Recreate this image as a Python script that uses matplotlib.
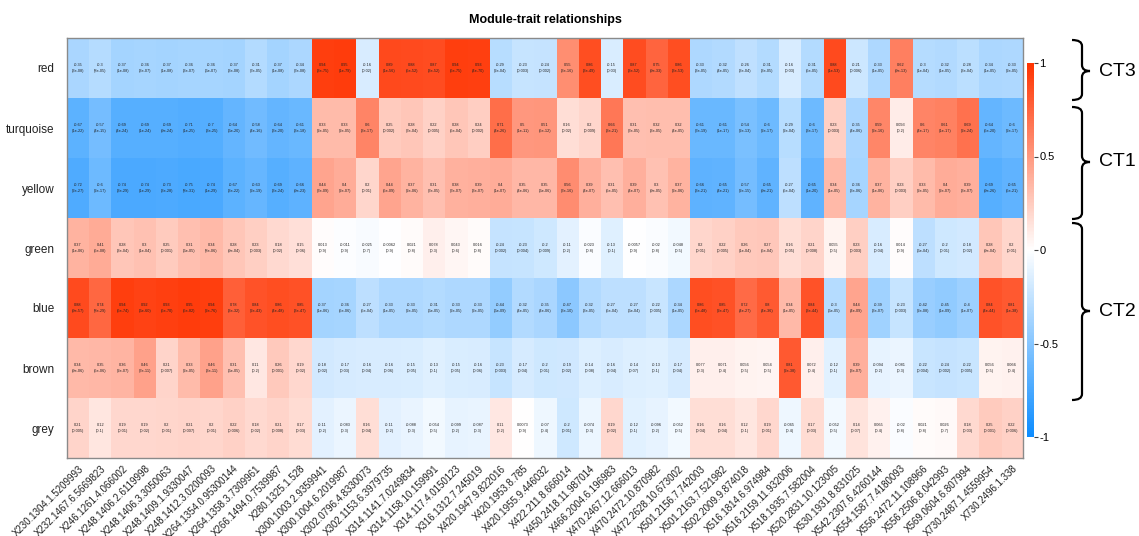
import numpy as np
import matplotlib
matplotlib.use("Agg")
import matplotlib.pyplot as plt
from matplotlib.colors import LinearSegmentedColormap
from matplotlib.path import Path
from matplotlib.patches import PathPatch

plt.rcParams['font.family'] = ['Liberation Sans', 'DejaVu Sans']

modules = ["red", "turquoise", "yellow", "green", "blue", "brown", "grey"]

traits = [
    "X230.1304.1.5209993", "X232.1467.6.5669823", "X246.1261.4.066002",
    "X248.1406.2.6119998", "X248.1406.3.3050063", "X248.1409.1.9330047",
    "X248.1412.3.0200093", "X264.1354.0.95300144", "X264.1358.3.7309961",
    "X266.1494.0.7539987", "X280.1325.1.528", "X300.1003.2.9359941",
    "X300.1004.6.2019987", "X302.0796.4.8330073", "X302.1153.6.3979735",
    "X314.1141.7.0249834", "X314.1158.10.159991", "X314.117.4.0150123",
    "X316.1312.7.245019", "X420.1947.9.822016", "X420.1953.8.785",
    "X420.1955.9.446032", "X422.211.8.666014", "X450.2418.11.987014",
    "X466.2004.6.196983", "X470.2467.12.666013", "X470.2472.10.870982",
    "X472.2628.10.673002", "X501.2156.7.742003", "X501.2163.7.521982",
    "X502.2009.9.874018", "X516.1814.6.974984", "X516.2159.11.932006",
    "X518.1935.7.582004", "X520.2831.10.123005", "X530.1931.8.831025",
    "X542.2307.6.4260144", "X554.1587.7.4180093", "X556.2472.11.108966",
    "X556.2506.8.042993", "X569.0604.6.807994", "X730.2487.1.4559954",
    "X730.2496.1.338",
]

red_cor = [-0.35, -0.3, -0.37, -0.36, -0.37, -0.36, -0.36, -0.37, -0.31, -0.37, -0.34,
           0.94, 0.95, -0.16, 0.89, 0.88, 0.87, 0.94, 0.93, -0.29, -0.23, -0.24,
           0.55, 0.86, -0.15, 0.87, 0.75, 0.86, -0.33, -0.32, -0.26, -0.31, -0.16,
           -0.31, 0.88, -0.21, -0.33, 0.62, -0.3, -0.32, -0.28, -0.34, -0.33]
red_p = ["3e-08", "8e-05", "1e-08", "3e-07", "1e-08", "3e-07", "6e-07", "3e-08", "7e-05", "1e-08", "7e-08",
         "3e-75", "1e-79", "0.02", "1e-56", "5e-52", "3e-52", "5e-75", "4e-70", "2e-04", "0.003", "0.002",
         "3e-16", "3e-49", "0.03", "3e-52", "9e-33", "3e-53", "3e-05", "4e-05", "3e-04", "3e-05", "0.03",
         "5e-05", "1e-53", "0.006", "1e-05", "9e-13", "1e-04", "1e-05", "3e-04", "1e-05", "2e-05"]

turquoise_cor = [-0.67, -0.57, -0.69, -0.69, -0.69, -0.71, -0.7, -0.64, -0.58, -0.64, -0.61,
                 0.33, 0.33, 0.6, 0.25, 0.28, 0.22, 0.28, 0.24, 0.71, 0.5, 0.51,
                 0.16, 0.2, 0.66, 0.31, 0.32, 0.32, -0.61, -0.61, -0.54, -0.6, -0.29,
                 -0.6, 0.23, -0.35, 0.59, 0.093, 0.6, 0.61, 0.69, -0.64, -0.6]
turquoise_p = ["1e-22", "4e-15", "4e-24", "1e-24", "9e-24", "1e-25", "3e-25", "6e-20", "4e-16", "3e-20", "3e-18",
               "2e-05", "2e-05", "3e-17", "0.002", "7e-04", "0.005", "5e-04", "0.002", "4e-26", "1e-11", "5e-12",
               "0.02", "0.009", "3e-21", "7e-05", "3e-05", "4e-05", "7e-19", "1e-17", "2e-13", "2e-17", "2e-04",
               "3e-17", "0.003", "4e-06", "2e-16", "0.2", "4e-17", "1e-17", "2e-24", "5e-20", "2e-17"]

yellow_cor = [-0.72, -0.6, -0.74, -0.74, -0.73, -0.75, -0.74, -0.67, -0.63, -0.69, -0.66,
              0.44, 0.4, 0.2, 0.44, 0.37, 0.31, 0.38, 0.39, 0.4, 0.35, 0.35,
              0.56, 0.39, 0.31, 0.39, 0.3, 0.37, -0.66, -0.65, -0.57, -0.65, -0.27,
              -0.65, 0.34, -0.36, 0.37, 0.23, 0.33, 0.4, 0.39, -0.69, -0.65]
yellow_p = ["2e-27", "2e-17", "3e-29", "1e-29", "3e-28", "8e-31", "1e-29", "3e-22", "2e-19", "3e-24", "9e-23",
            "7e-09", "2e-07", "0.01", "5e-09", "2e-06", "7e-05", "7e-07", "3e-07", "1e-07", "4e-06", "6e-06",
            "7e-16", "4e-07", "5e-05", "4e-07", "9e-05", "2e-06", "3e-21", "4e-21", "2e-15", "9e-21", "5e-04",
            "1e-20", "1e-05", "3e-06", "1e-06", "0.003", "2e-05", "2e-07", "3e-07", "9e-26", "5e-21"]

green_cor = [0.37, 0.41, 0.28, 0.3, 0.25, 0.31, 0.34, 0.28, 0.23, 0.18, 0.15,
             0.013, -0.011, -0.025, -0.0062, 0.021, 0.078, 0.043, 0.016, -0.24, -0.23, -0.2,
             -0.11, -0.023, -0.13, -0.0057, -0.02, -0.048, 0.2, 0.22, 0.26, 0.27, 0.16,
             0.21, 0.055, 0.23, -0.16, 0.014, -0.27, -0.2, -0.18, 0.28, 0.2]
green_p = ["1e-06", "5e-08", "3e-04", "1e-04", "0.001", "6e-05", "8e-06", "9e-04", "0.003", "0.02", "0.06",
           "0.9", "0.9", "0.7", "0.9", "0.8", "0.3", "0.6", "0.8", "0.002", "0.004", "0.009",
           "0.2", "0.8", "0.1", "0.9", "0.8", "0.5", "0.01", "0.005", "1e-04", "5e-04", "0.05",
           "0.008", "0.5", "0.003", "0.04", "0.9", "6e-04", "0.01", "0.02", "9e-04", "0.01"]

blue_cor = [0.88, 0.74, 0.94, 0.92, 0.93, 0.95, 0.94, 0.78, 0.84, 0.86, 0.85,
            -0.37, -0.36, -0.27, -0.33, -0.33, -0.31, -0.33, -0.33, -0.44, -0.32, -0.35,
            -0.47, -0.32, -0.27, -0.27, -0.22, -0.34, 0.86, 0.85, 0.72, 0.8, 0.34,
            0.84, -0.3, 0.44, -0.39, -0.23, -0.42, -0.45, -0.4, 0.84, 0.81]
blue_p = ["9e-57", "8e-29", "5e-74", "6e-60", "5e-70", "5e-82", "2e-76", "3e-32", "2e-43", "4e-48", "3e-47",
          "1e-06", "5e-06", "5e-04", "1e-05", "2e-05", "6e-05", "2e-05", "2e-05", "6e-09", "4e-05", "4e-06",
          "3e-10", "3e-05", "5e-04", "6e-04", "0.005", "1e-05", "5e-48", "2e-47", "4e-27", "4e-36", "1e-05",
          "3e-44", "6e-05", "4e-09", "3e-07", "0.003", "2e-08", "1e-09", "1e-07", "4e-44", "1e-38"]

brown_cor = [0.34, 0.35, 0.36, 0.46, 0.21, 0.33, 0.46, 0.31, 0.11, 0.26, 0.19,
             -0.18, -0.17, -0.16, -0.16, -0.15, -0.13, -0.15, -0.16, -0.23, -0.17, -0.2,
             -0.19, -0.14, -0.16, -0.14, -0.13, -0.17, 0.077, 0.071, 0.056, 0.054, 0.81,
             0.072, -0.12, 0.39, -0.094, -0.081, -0.22, -0.24, -0.22, 0.056, 0.066]
brown_p = ["9e-06", "5e-06", "2e-07", "7e-11", "0.007", "2e-05", "3e-11", "6e-05", "0.2", "0.001", "0.02",
           "0.02", "0.03", "0.04", "0.06", "0.05", "0.1", "0.05", "0.06", "0.003", "0.04", "0.01",
           "0.02", "0.08", "0.04", "0.07", "0.1", "0.04", "0.3", "0.4", "0.5", "0.5", "2e-38",
           "0.4", "0.1", "3e-07", "0.2", "0.3", "0.004", "0.002", "0.005", "0.5", "0.4"]

grey_cor = [0.21, 0.12, 0.19, 0.19, 0.2, 0.21, 0.2, 0.22, 0.18, 0.21, 0.17,
            -0.11, -0.083, 0.16, -0.11, -0.088, -0.054, -0.099, -0.087, 0.11, 0.0073, -0.07,
            -0.2, -0.074, 0.19, -0.12, -0.096, -0.052, 0.16, 0.16, 0.12, 0.19, -0.065,
            0.17, -0.052, 0.14, 0.065, -0.02, 0.021, 0.026, 0.18, 0.25, 0.22]
grey_p = ["0.005", "0.1", "0.01", "0.02", "0.01", "0.007", "0.01", "0.006", "0.02", "0.008", "0.03",
          "0.2", "0.3", "0.04", "0.2", "0.3", "0.5", "0.2", "0.3", "0.2", "0.9", "0.4",
          "0.01", "0.3", "0.02", "0.1", "0.2", "0.5", "0.04", "0.04", "0.1", "0.01", "0.4",
          "0.03", "0.5", "0.07", "0.4", "0.8", "0.8", "0.7", "0.03", "0.001", "0.006"]

# module groups shown with braces on the right: (label, top px, bottom px, tip px)
groups = [("CT3", 40, 100, 71), ("CT1", 107, 219, 162), ("CT2", 223, 400, 311)]

cor = np.array([red_cor, turquoise_cor, yellow_cor, green_cor, blue_cor, brown_cor, grey_cor])
pvals = [red_p, turquoise_p, yellow_p, green_p, blue_p, brown_p, grey_p]

W, H = 1139, 536
fig = plt.figure(figsize=(W / 100, H / 100), dpi=100)
fig.patch.set_facecolor("white")

cmap = LinearSegmentedColormap.from_list(
    "bwr_wgcna", [(0.05, 0.55, 1.0), (1.0, 1.0, 1.0), (1.0, 0.2, 0.0)])


def px_box(left, top, right, bottom):
    return [left / W, 1 - bottom / H, (right - left) / W, (bottom - top) / H]


ax = fig.add_axes(px_box(67, 38, 1023, 458))
im = ax.imshow(cor, cmap=cmap, vmin=-1, vmax=1, aspect="auto", interpolation="nearest")

for i in range(cor.shape[0]):
    for j in range(cor.shape[1]):
        ax.text(j, i, "%s\n(%s)" % (f"{cor[i, j]:g}", pvals[i][j]),
                ha="center", va="center", fontsize=2.8, linespacing=1.9, color="#222222")

ax.set_yticks(range(len(modules)))
ax.set_yticklabels(modules, fontsize=8.5, color="#222222")
ax.set_xticks(range(len(traits)))
ax.set_xticklabels(traits, fontsize=7, rotation=45, ha="right", va="top",
                   rotation_mode="anchor", color="#222222")
ax.tick_params(length=0, pad=9)
ax.tick_params(axis="x", pad=4)
for s in ax.spines.values():
    s.set_color("#8a8a8a")
    s.set_linewidth(1.0)

ax.set_title("Module-trait relationships", fontsize=9, fontweight="bold", pad=11)

cax = fig.add_axes(px_box(1027, 63, 1034, 437))
cb = fig.colorbar(im, cax=cax, ticks=[-1, -0.5, 0, 0.5, 1])
cb.outline.set_visible(False)
cb.ax.set_yticklabels(["-1", "-0.5", "0", "0.5", "1"])
cb.ax.tick_params(labelsize=8, length=3, width=0.8, pad=1, color="#444444")

# braces grouping the modules
over = fig.add_axes([0, 0, 1, 1])
over.set_xlim(0, W)
over.set_ylim(H, 0)
over.axis("off")
xl, xm, xt, r = 1072, 1082, 1090, 6
for name, y0, y1, ym in groups:
    verts = [(xl, y0), (xm, y0), (xm, y0 + r),
             (xm, ym - r),
             (xm, ym), (xt, ym),
             (xm, ym), (xm, ym + r),
             (xm, y1 - r),
             (xm, y1), (xl, y1)]
    codes = [Path.MOVETO, Path.CURVE3, Path.CURVE3,
             Path.LINETO,
             Path.CURVE3, Path.CURVE3,
             Path.CURVE3, Path.CURVE3,
             Path.LINETO,
             Path.CURVE3, Path.CURVE3]
    over.add_patch(PathPatch(Path(verts, codes), fill=False, lw=1.6, color="black"))
    over.text(1099, ym, name, fontsize=14, ha="left", va="center")

fig.savefig("out.png", dpi=100)
